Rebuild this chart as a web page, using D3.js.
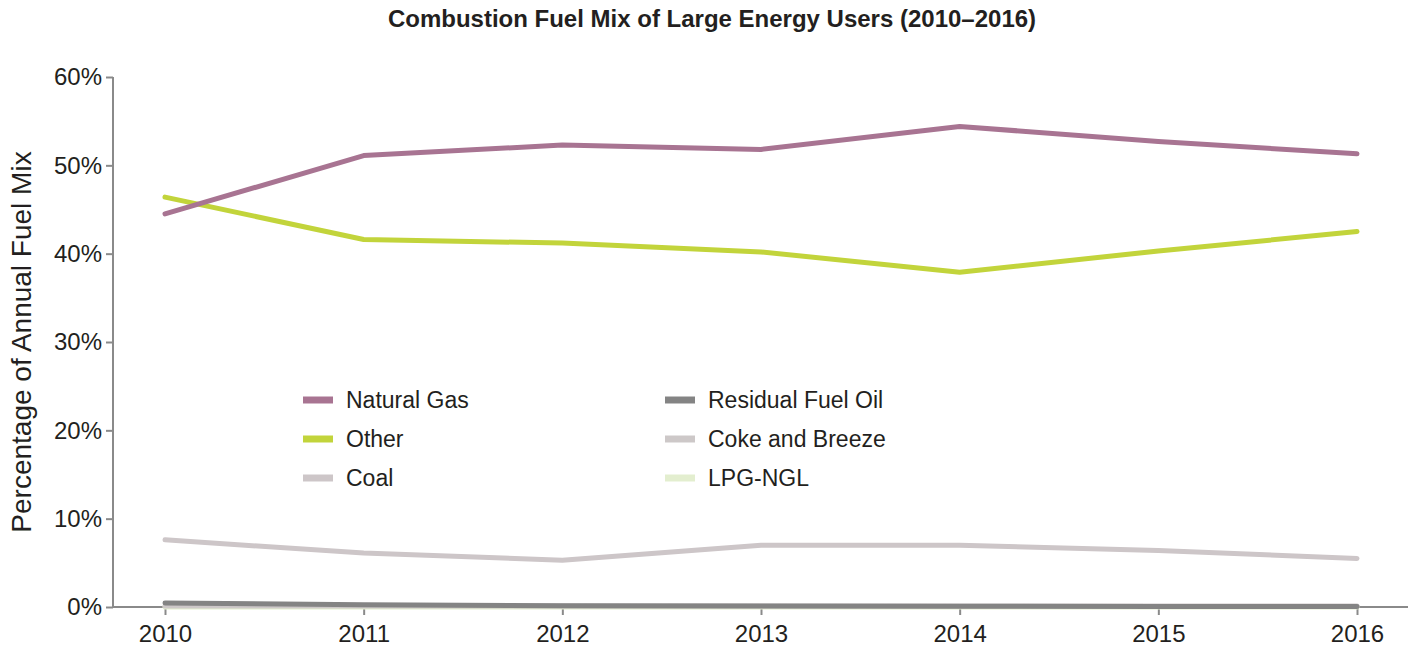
<!DOCTYPE html>
<html>
<head>
<meta charset="utf-8">
<script src="https://cdn.jsdelivr.net/npm/d3@7"></script>
<style>
  body { margin: 0; background: #fff; }
  svg text { font-family: "Liberation Sans", Arial, sans-serif; fill: #231f20; }
</style>
</head>
<body>
<svg id="chart" width="1413" height="652"></svg>
<script>
const years = [2010, 2011, 2012, 2013, 2014, 2015, 2016];
const yTicks = [0, 10, 20, 30, 40, 50, 60];

// percent of annual fuel mix
const naturalGas = [44.5, 51.1, 52.3, 51.8, 54.4, 52.7, 51.3];
const other = [46.4, 41.6, 41.2, 40.2, 37.9, 40.3, 42.5];
const coal = [7.6, 6.1, 5.3, 7.0, 7.0, 6.4, 5.5];
const residualFuelOil = [0.45, 0.25, 0.15, 0.1, 0.08, 0.05, 0.05];
const cokeAndBreeze = [0.1, 0.1, 0.1, 0.1, 0.1, 0.1, 0.1];
const lpgNgl = [0.0, 0.0, 0.0, 0.0, 0.0, 0.0, 0.0];

const seriesNames = ['Natural Gas', 'Other', 'Coal', 'Residual Fuel Oil', 'Coke and Breeze', 'LPG-NGL'];
const seriesValues = [naturalGas, other, coal, residualFuelOil, cokeAndBreeze, lpgNgl];
const colors = ['#a87492', '#c2d43b', '#cdc6c8', '#848484', '#cdc8c8', '#e3eecf'];

const svg = d3.select('#chart');

const x = d3.scalePoint().domain(years).range([165, 1357]);
const y = d3.scaleLinear().domain([0, 60]).range([607, 77]);

// title
svg.append('text')
    .attr('x', 712)
    .attr('y', 27)
    .attr('text-anchor', 'middle')
    .style('font-weight', 'bold')
    .style('font-size', '24px')
    .text('Combustion Fuel Mix of Large Energy Users (2010–2016)');

// axes
const yAxis = svg.append('g')
    .attr('transform', 'translate(113,0)')
    .call(d3.axisLeft(y).tickValues(yTicks).tickFormat(d => d + '%').tickSize(7).tickPadding(4));

const xAxis = svg.append('g')
    .attr('transform', 'translate(0,607)')
    .call(d3.axisBottom(x).tickSize(8).tickPadding(10).tickFormat(d => d));

[yAxis, xAxis].forEach(g => {
    g.select('.domain').remove();
    g.selectAll('line').attr('stroke', '#8a8a8a').attr('stroke-width', 2);
    g.selectAll('text').style('font-size', '24px').attr('fill', '#231f20');
});

svg.append('line')
    .attr('x1', 113).attr('x2', 113)
    .attr('y1', y(60)).attr('y2', y(0))
    .attr('stroke', '#8a8a8a').attr('stroke-width', 2);
svg.append('line')
    .attr('x1', 113).attr('x2', 1408)
    .attr('y1', y(0)).attr('y2', y(0))
    .attr('stroke', '#8a8a8a').attr('stroke-width', 2);

// y label
svg.append('text')
    .attr('transform', 'translate(31,342) rotate(-90)')
    .attr('text-anchor', 'middle')
    .style('font-size', '28px')
    .text('Percentage of Annual Fuel Mix');

// lines, drawn so the near-zero ones stack like the original
const line = d3.line()
    .x((d, i) => x(years[i]))
    .y(d => y(d));

const drawOrder = [5, 4, 3, 2, 1, 0];
drawOrder.forEach(k => {
    svg.append('path')
        .datum(seriesValues[k])
        .attr('d', line)
        .attr('fill', 'none')
        .attr('stroke', colors[k])
        .attr('stroke-width', 5)
        .attr('stroke-linecap', 'round')
        .attr('stroke-linejoin', 'round');
});

// legend
const legend = svg.append('g');
seriesNames.forEach((name, i) => {
    const col = Math.floor(i / 3);
    const row = i % 3;
    const lx = 303 + col * 362;
    const ly = 400 + row * 39;
    legend.append('line')
        .attr('x1', lx).attr('x2', lx + 30)
        .attr('y1', ly).attr('y2', ly)
        .attr('stroke', colors[i])
        .attr('stroke-width', 7);
    legend.append('text')
        .attr('x', lx + 43)
        .attr('y', ly + 8)
        .style('font-size', '23px')
        .text(name);
});
</script>
</body>
</html>
